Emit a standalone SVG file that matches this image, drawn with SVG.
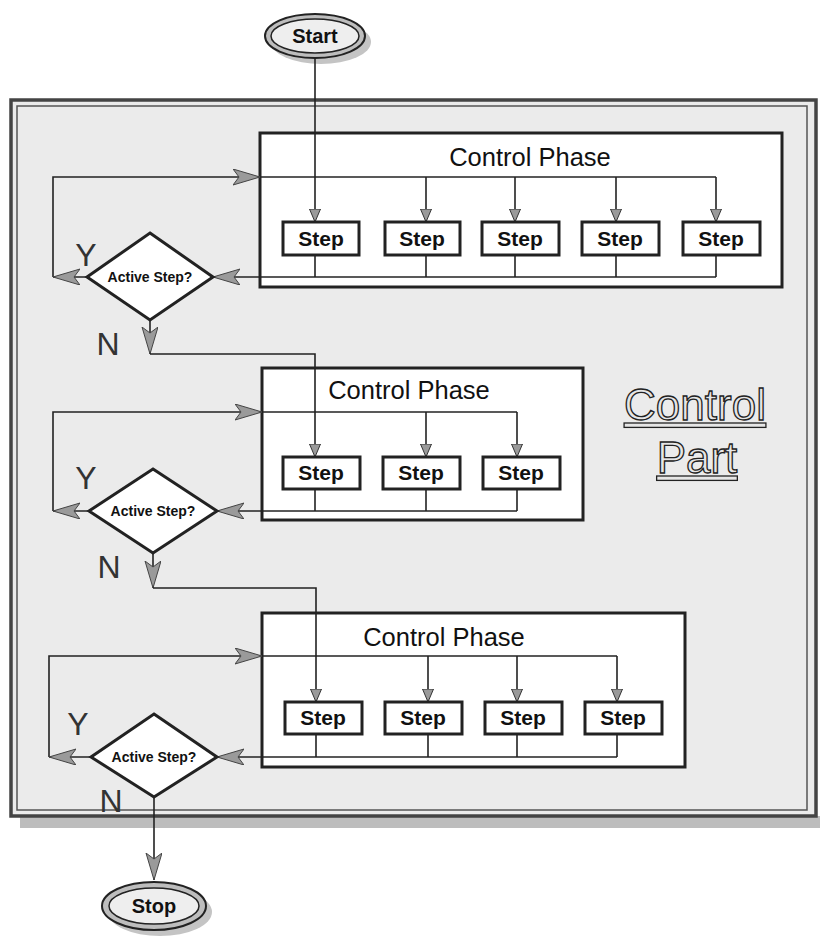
<svg xmlns="http://www.w3.org/2000/svg" width="820" height="943" viewBox="0 0 820 943">
<defs>
<style>
.ln{fill:none;stroke:#222;stroke-width:1.6}
.box{fill:#fff;stroke:#222;stroke-width:3}
.step{fill:#fff;stroke:#222;stroke-width:3}
.dia{fill:#fff;stroke:#222;stroke-width:3}
.t-step{font-family:"Liberation Sans",Arial,sans-serif;font-weight:bold;font-size:21px;text-anchor:middle;fill:#111}
.t-title{font-family:"Liberation Sans",Arial,sans-serif;font-size:25.5px;text-anchor:middle;fill:#111}
.t-dia{font-family:"Liberation Sans",Arial,sans-serif;font-weight:bold;font-size:14px;text-anchor:middle;fill:#111}
.t-yn{font-family:"Liberation Sans",Arial,sans-serif;font-size:32px;text-anchor:middle;fill:#333}
.t-big{font-family:"Liberation Sans",Arial,sans-serif;font-size:44px;text-anchor:middle;fill:#e6e6e6;stroke:#222;stroke-width:1.3;text-decoration:underline}
.t-term{font-family:"Liberation Sans",Arial,sans-serif;font-weight:bold;font-size:20px;text-anchor:middle;fill:#111}
</style>
<marker id="big" markerUnits="userSpaceOnUse" markerWidth="28" markerHeight="18" refX="27" refY="8" orient="auto">
<path d="M0,0 L27,8 L0,16 L6,8 z" fill="#9a9a9a" stroke="#444" stroke-width="1"/>
</marker>
<marker id="small" markerUnits="userSpaceOnUse" markerWidth="14" markerHeight="12" refX="13" refY="5.5" orient="auto">
<path d="M0,0 L13,5.5 L0,11 z" fill="#9a9a9a" stroke="#333" stroke-width="1"/>
</marker>
</defs>
<rect width="820" height="943" fill="#fff"/>

<g id="frame">
<rect x="20" y="816" width="800" height="12" fill="#bdbdbd"/>
<rect x="11" y="100" width="805" height="716" fill="#ebebeb" stroke="#444" stroke-width="3.5"/>
<rect x="17" y="106" width="790" height="704" fill="none" stroke="#555" stroke-width="1.5"/>
</g>

<g id="start">
<ellipse cx="321" cy="42" rx="50" ry="22" fill="#c4c4c4"/>
<ellipse cx="315" cy="36" rx="50" ry="22" fill="#bdbdbd" stroke="#222" stroke-width="2"/>
<ellipse cx="315" cy="36" rx="44" ry="17" fill="#eeeeee" stroke="#222" stroke-width="1.5"/>
<text class="t-term" x="315" y="43">Start</text>
</g>

<g id="phase1">
<rect class="box" x="260" y="133" width="522" height="154"/>
<text class="t-title" x="530" y="166">Control Phase</text>
</g>
<g id="phase2">
<rect class="box" x="262" y="368" width="321" height="152"/>
<text class="t-title" x="409" y="399">Control Phase</text>
</g>
<g id="phase3">
<rect class="box" x="262" y="613" width="423" height="154"/>
<text class="t-title" x="444" y="646">Control Phase</text>
</g>

<g id="connectors">
<path class="ln" d="M315,58 L315,222" marker-end="url(#small)"/>
<path class="ln" d="M53,277 L53,177 L260,177" marker-end="url(#big)"/>
<path class="ln" d="M260,177 L716,177"/>
<path class="ln" d="M426,177 L426,222" marker-end="url(#small)"/>
<path class="ln" d="M515,177 L515,222" marker-end="url(#small)"/>
<path class="ln" d="M616,177 L616,222" marker-end="url(#small)"/>
<path class="ln" d="M716,177 L716,222" marker-end="url(#small)"/>
<path class="ln" d="M315,255 L315,277 M426,255 L426,277 M515,255 L515,277 M616,255 L616,277 M716,255 L716,277"/>
<path class="ln" d="M716,277 L213,277" marker-end="url(#big)"/>
<path class="ln" d="M87,277 L53,277" marker-end="url(#big)"/>
<path class="ln" d="M150,320 L150,354" marker-end="url(#big)"/>
<path class="ln" d="M150,354 L315,354 L315,457" marker-end="url(#small)"/>
<path class="ln" d="M53,511 L53,412 L262,412" marker-end="url(#big)"/>
<path class="ln" d="M262,412 L517,412"/>
<path class="ln" d="M426,412 L426,457" marker-end="url(#small)"/>
<path class="ln" d="M517,412 L517,457" marker-end="url(#small)"/>
<path class="ln" d="M315,489 L315,511 M426,489 L426,511 M517,489 L517,511"/>
<path class="ln" d="M517,511 L217,511" marker-end="url(#big)"/>
<path class="ln" d="M89,511 L53,511" marker-end="url(#big)"/>
<path class="ln" d="M153,553 L153,588" marker-end="url(#big)"/>
<path class="ln" d="M153,588 L316,588 L316,702" marker-end="url(#small)"/>
<path class="ln" d="M49,757 L49,656 L262,656" marker-end="url(#big)"/>
<path class="ln" d="M262,656 L617,656"/>
<path class="ln" d="M428,656 L428,702" marker-end="url(#small)"/>
<path class="ln" d="M517,656 L517,702" marker-end="url(#small)"/>
<path class="ln" d="M617,656 L617,702" marker-end="url(#small)"/>
<path class="ln" d="M316,734 L316,757 M428,734 L428,757 M517,734 L517,757 M617,734 L617,757"/>
<path class="ln" d="M617,757 L217,757" marker-end="url(#big)"/>
<path class="ln" d="M91,757 L49,757" marker-end="url(#big)"/>
<path class="ln" d="M154,797 L154,880" marker-end="url(#big)"/>
</g>

<g id="steps1">
<g id="s1-1"><rect class="step" x="283" y="222" width="76" height="33"/><text class="t-step" x="321" y="246">Step</text></g>
<g id="s1-2"><rect class="step" x="385" y="222" width="75" height="33"/><text class="t-step" x="422" y="246">Step</text></g>
<g id="s1-3"><rect class="step" x="482" y="222" width="77" height="33"/><text class="t-step" x="520" y="246">Step</text></g>
<g id="s1-4"><rect class="step" x="582" y="222" width="77" height="33"/><text class="t-step" x="620" y="246">Step</text></g>
<g id="s1-5"><rect class="step" x="683" y="222" width="77" height="33"/><text class="t-step" x="721" y="246">Step</text></g>
</g>
<g id="steps2">
<g id="s2-1"><rect class="step" x="283" y="457" width="77" height="32"/><text class="t-step" x="321" y="480">Step</text></g>
<g id="s2-2"><rect class="step" x="383" y="457" width="77" height="32"/><text class="t-step" x="421" y="480">Step</text></g>
<g id="s2-3"><rect class="step" x="483" y="457" width="77" height="32"/><text class="t-step" x="521" y="480">Step</text></g>
</g>
<g id="steps3">
<g id="s3-1"><rect class="step" x="285" y="702" width="77" height="32"/><text class="t-step" x="323" y="725">Step</text></g>
<g id="s3-2"><rect class="step" x="385" y="702" width="77" height="32"/><text class="t-step" x="423" y="725">Step</text></g>
<g id="s3-3"><rect class="step" x="485" y="702" width="77" height="32"/><text class="t-step" x="523" y="725">Step</text></g>
<g id="s3-4"><rect class="step" x="585" y="702" width="77" height="32"/><text class="t-step" x="623" y="725">Step</text></g>
</g>

<g id="decision1">
<polygon class="dia" points="150,233 213,277 150,320 87,277"/>
<text class="t-dia" x="150" y="282">Active Step?</text>
</g>
<g id="decision2">
<polygon class="dia" points="153,469 217,511 153,553 89,511"/>
<text class="t-dia" x="153" y="516">Active Step?</text>
</g>
<g id="decision3">
<polygon class="dia" points="154,714 217,757 154,797 91,757"/>
<text class="t-dia" x="154" y="762">Active Step?</text>
</g>

<g id="labels">
<text class="t-yn" x="86" y="266">Y</text>
<text class="t-yn" x="108" y="355">N</text>
<text class="t-yn" x="86" y="489">Y</text>
<text class="t-yn" x="109" y="578">N</text>
<text class="t-yn" x="78" y="735">Y</text>
<text class="t-yn" x="111" y="812">N</text>
</g>

<g id="control-part">
<text class="t-big" x="695" y="420">Control</text>
<text class="t-big" x="697" y="473">Part</text>
</g>

<g id="stop">
<ellipse cx="160" cy="912" rx="52" ry="24" fill="#c4c4c4"/>
<ellipse cx="154" cy="906" rx="52" ry="24" fill="#bdbdbd" stroke="#222" stroke-width="2"/>
<ellipse cx="154" cy="906" rx="45" ry="18" fill="#eeeeee" stroke="#222" stroke-width="1.5"/>
<text class="t-term" x="154" y="913">Stop</text>
</g>
</svg>
